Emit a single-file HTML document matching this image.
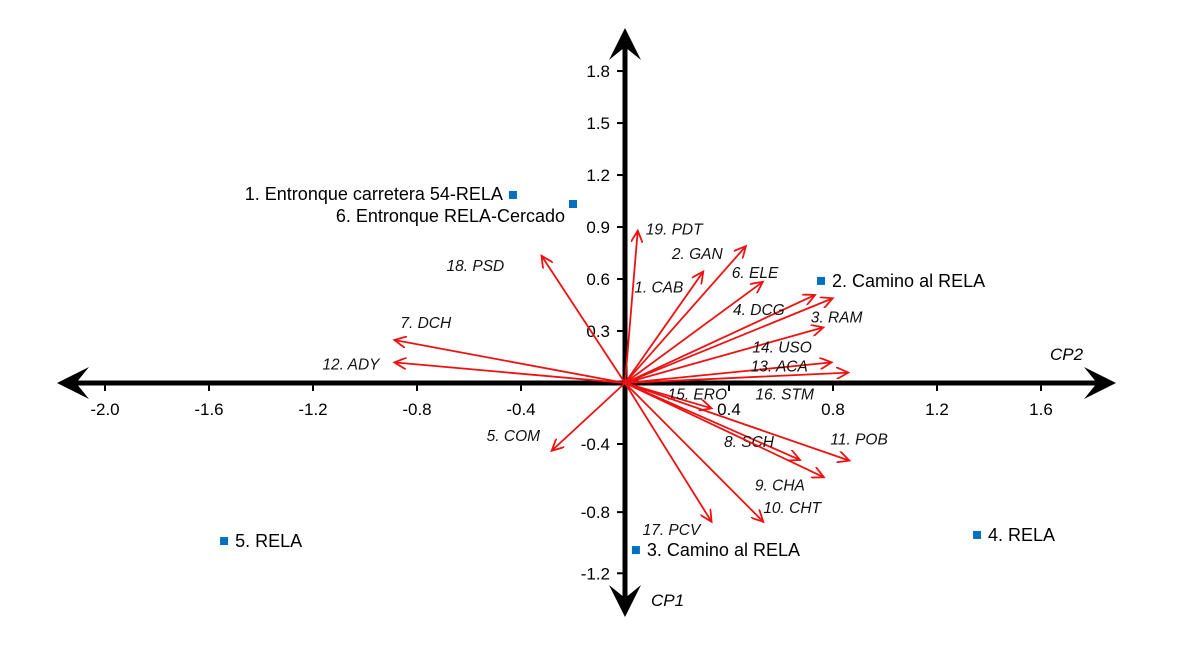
<!DOCTYPE html>
<html><head><meta charset="utf-8"><style>
body{margin:0;background:#fff}
svg{display:block;font-family:"Liberation Sans",Arial,sans-serif}
</style></head><body>
<svg id="chart" width="1181" height="645" viewBox="0 0 1181 645">
<defs><marker id="ah" markerWidth="14" markerHeight="12" refX="12" refY="6" orient="auto" markerUnits="userSpaceOnUse">
<path d="M0,0 L12,6 L0,12" fill="none" stroke="#ee1111" stroke-width="1.8"/></marker></defs>
<g id="axes"></g><g id="vectors"></g><g id="points"></g>
</svg>
<script>
const xTicks=[-2.0,-1.6,-1.2,-0.8,-0.4,0.4,0.8,1.2,1.6];
const xTickLabels=["-2.0","-1.6","-1.2","-0.8","-0.4","0.4","0.8","1.2","1.6"];
const yTicks=[1.8,1.5,1.2,0.9,0.6,0.3,-0.352,-0.745,-1.098];
const yTickLabels=["1.8","1.5","1.2","0.9","0.6","0.3","-0.4","-0.8","-1.2"];
const varNames=["19. PDT","1. CAB","2. GAN","6. ELE","4. DCG","3. RAM","14. USO","13. ACA","16. STM","18. PSD","7. DCH","12. ADY","5. COM","15. ERO","8. SCH","11. POB","9. CHA","10. CHT","17. PCV"];
const varX=[0.049,0.301,0.465,0.530,0.731,0.799,0.763,0.795,0.859,-0.321,-0.887,-0.887,-0.282,0.333,0.673,0.863,0.765,0.532,0.333];
const varY=[0.879,0.643,0.790,0.584,0.508,0.489,0.321,0.119,0.060,0.734,0.248,0.119,-0.391,-0.146,-0.444,-0.448,-0.544,-0.801,-0.801];
const siteNames=["1. Entronque carretera 54-RELA","6. Entronque RELA-Cercado","2. Camino al RELA","5. RELA","4. RELA","3. Camino al RELA"];
const siteX=[-0.431,-0.200,0.754,-1.542,1.354,0.042];
const siteY=[1.085,1.033,0.589,-0.912,-0.877,-0.964];

const X0=625,Y0=383,SX=260,SY=173.3;
const sx=v=>X0+v*SX, sy=v=>Y0-v*SY;
const NS="http://www.w3.org/2000/svg";
function mk(tag,attrs,parent,text){const e=document.createElementNS(NS,tag);for(const k in attrs)e.setAttribute(k,attrs[k]);if(text!==undefined)e.textContent=text;parent.appendChild(e);return e;}
const axes=document.getElementById('axes'),vec=document.getElementById('vectors'),pts=document.getElementById('points');

let e;
e=mk('line',{x1:75,y1:Y0,x2:1100,y2:Y0,stroke:'#000','stroke-width':5},axes);


e=mk('line',{x1:X0,y1:45,x2:X0,y2:600,stroke:'#000','stroke-width':5},axes);


const heads=[[`M57,${Y0} L89,${Y0-16} L76,${Y0} L89,${Y0+16}Z`,'x-axis-left-arrow'],[`M1116,${Y0} L1084,${Y0-16} L1097,${Y0} L1084,${Y0+16}Z`,'x-axis-right-arrow'],[`M${X0},28 L${X0-16},60 L${X0},47 L${X0+16},60Z`,'y-axis-top-arrow'],[`M${X0},617 L${X0-16},585 L${X0},598 L${X0+16},585Z`,'y-axis-bottom-arrow']];
heads.forEach(h=>{e=mk('path',{d:h[0],fill:'#000'},axes);

});
xTicks.forEach((v,i)=>{mk('line',{x1:sx(v),y1:Y0,x2:sx(v),y2:Y0+8,stroke:'#000','stroke-width':2},axes);
e=mk('text',{x:sx(v),y:Y0+32,'text-anchor':'middle','font-size':17,fill:'#000'},axes,xTickLabels[i]);

});
yTicks.forEach((v,i)=>{mk('line',{x1:X0-8,y1:sy(v),x2:X0,y2:sy(v),stroke:'#000','stroke-width':2},axes);
e=mk('text',{x:X0-15,y:sy(v)+6,'text-anchor':'end','font-size':17,fill:'#000'},axes,yTickLabels[i]);

});
e=mk('text',{x:1050,y:360,'font-size':17,'font-style':'italic'},axes,'CP2');


e=mk('text',{x:651,y:606,'font-size':17,'font-style':'italic'},axes,'CP1');



const lblOff=[[8,4],[-69,21],[-74,13],[-31,-4],[-82,20],[-22,24],[-71,25],[-81,9],[-93,27],[-95,15],[6,-12],[-72,7],[-65,-10],[-44,-9],[-76,-13],[-19,-16],[-69,13],[0,-9],[-69,13]];
varNames.forEach((n,i)=>{
 const tx=sx(varX[i]),ty=sy(varY[i]);
 e=mk('line',{x1:X0,y1:Y0,x2:tx,y2:ty,stroke:'#ee1111','stroke-width':1.8,'marker-end':'url(#ah)'},vec);
 
 
 e=mk('text',{x:tx+lblOff[i][0],y:ty+lblOff[i][1],'font-size':15.5,'font-style':'italic',fill:'#111'},vec,n);
 
 
});
const siteOff=[[-10,5,'end'],[-8,18,'end'],[11,6,'start'],[11,6,'start'],[11,6,'start'],[11,6,'start']];
siteNames.forEach((n,i)=>{
 const px=sx(siteX[i]),py=sy(siteY[i]);
 e=mk('rect',{x:px-4,y:py-4,width:8,height:8,fill:'#0070c0'},pts);
 
 
 e=mk('text',{x:px+siteOff[i][0],y:py+siteOff[i][1],'text-anchor':siteOff[i][2],'font-size':18,fill:'#000'},pts,n);
 
 
});
</script>
</body></html>
